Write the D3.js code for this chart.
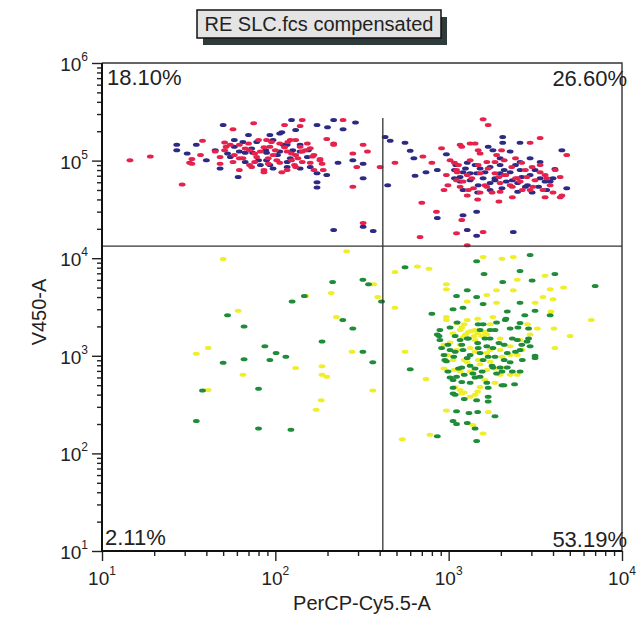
<!DOCTYPE html>
<html>
<head>
<meta charset="utf-8">
<script src="https://cdn.jsdelivr.net/npm/d3@7"></script>
<style>
body{margin:0;background:#fff;}
text{font-family:"Liberation Sans",Arial,sans-serif;fill:#222;}
</style>
</head>
<body>
<script>
// events: [PerCP-Cy5.5-A, V450-A]
var blueEvents = [[27,1.45e5],[27,1.28e5],[31,1.18e5],[35,1.45e5],[50,2.32e5],[70,1.83e5],[93,1.83e5],[109,1.95e5],[124,2.6e5],[174,2.32e5],[217,2.6e5],[200,2.2e5],[246,2.1e5],[290,2.45e5],[230,9.5e4],[280,1.01e5],[321,9.3e4],[321,6.6e4],[174,6e4],[174,5.3e4],[61,6.8e4],[217,1.95e4],[321,2.1e4],[367,1.9e4],
  [58,1.63e5],[65,1.55e5],[78,1.55e5],[97,1.63e5],[106,1.9e5],[117,1.45e5],[139,1.45e5],[126,1.28e5],[106,1.24e5],[89,1.2e5],[74,1.2e5],[62,1.24e5],[55,1.09e5],[67,9.7e4],[82,9e4],[97,8.3e4],[117,8.6e4],[139,8.3e4],[159,8.6e4],[174,7.4e4],[198,7.1e4],[153,1.09e5],[131,2.06e5],[48,8.3e4],[40,1.01e5],[45,1.28e5],[89,1.01e5],[117,9.7e4],
  [53,1.18e5],[73,1.33e5],[88,1.28e5],[103,1.14e5],[122,1.06e5],[139,1.24e5],[80,1.01e5],[67,1.2e5],[111,1.45e5],[155,1.28e5],[93,9e4],[58,1.39e5],
  [430,1.75e5],[460,1.6e5],[445,5.6e4],[560,1.52e5],[600,1.26e5],[630,1.06e5],[740,7.6e4],[640,7e4],[970,1.16e5],[860,8e4],[2050,1.75e5],[2050,1.52e5],[2580,1.52e5],[1690,1.39e5],[4500,1.28e5],[4100,8.2e4],[4800,5.2e4],[1450,3e4],[860,2.58e4],[1210,2.75e4],[1280,1.95e4],[1450,1.7e4],[2360,1.85e4],[2950,1.06e5],
  [1080,8e4],[1210,7.6e4],[1450,7.4e4],[1518,8.3e4],[1734,8.6e4],[1980,9e4],[2262,7.6e4],[2583,8e4],[2950,7.1e4],[3369,6.6e4],[3850,6.1e4],[3300,5.4e4],[2850,5.6e4],[2500,5.9e4],[2150,6.1e4],[1850,6.6e4],[1580,6.6e4],[1330,6.3e4],[1164,6.1e4],[1080,6.6e4],[1210,5e4],[1470,4.7e4],[1734,5e4],[2030,5.2e4],[2500,4.8e4],[3030,4.7e4],[3680,5e4],[1980,7.4e4],[2583,9.7e4],[3369,9.7e4],[1280,9.5e4],[1800,1.28e5],[2262,1.24e5],
  [1100,9e4],[1250,8.3e4],[1420,9e4],[1620,7.6e4],[1850,6.3e4],[2090,8e4],[2330,6.3e4],[2640,6.8e4],[3150,8e4],[3600,6.1e4],[1734,5.9e4],[1480,5.6e4],[1164,6.8e4],[1981,1.06e5],[2770,5.4e4],[2430,9e4],[4000,6.6e4],[1330,7.4e4]];

var redEvents = [[14.5,1.01e5],[19,1.1e5],[29,5.7e4],[33,1.04e5],[33,9.3e4],[38,1.6e5],[57,2.1e5],[75,2.42e5],[113,2.32e5],[143,2.6e5],[139,2.26e5],[246,2.6e5],[198,1.66e5],[217,1.45e5],[321,1.45e5],[340,1.24e5],[280,1.18e5],[181,1.04e5],[186,9.3e4],[295,8.6e4],[402,8.6e4],[280,5.4e4],[321,2.3e4],
  [51,1.53e5],[52,1.39e5],[62,1.45e5],[71,1.28e5],[82,1.24e5],[93,1.39e5],[106,1.5e5],[118,1.55e5],[131,1.63e5],[153,1.5e5],[159,1.34e5],[117,1.24e5],[97,1.14e5],[78,1.09e5],[65,1.06e5],[57,9.7e4],[48,9.3e4],[102,1.01e5],[124,1.01e5],[143,9.7e4],[131,1.14e5],[91,9.3e4],[73,8.6e4],[117,8e4],[167,8e4],[189,8e4],[217,1.5e5],[109,7.6e4],[143,1.24e5],[45,1.24e5],[37,1.14e5],[32,9.5e4],[76,9.7e4],[89,1.63e5],[139,1.39e5],[167,1.14e5],[131,8.6e4],[86,7.6e4],[62,8e4],[181,1.01e5],
  [51,1.28e5],[58,1.14e5],[67,1.33e5],[76,1.18e5],[86,1.37e5],[100,1.28e5],[113,1.37e5],[124,1.18e5],[135,1.06e5],[149,1.28e5],[164,1.1e5],[91,1.06e5],[106,9.5e4],[71,9e4],[62,1.06e5],[55,1.45e5],[80,1.63e5],[95,1.55e5],[129,9e4],[159,9.5e4],[86,8e4],[70,1.5e5],[122,1.63e5],[48,1.09e5],
  [1580,2.65e5],[1690,2.32e5],[700,3.7e4],[684,1.65e4],[850,3e4],[1190,2.46e4],[1110,1.8e4],[1280,1.36e4],[1580,1.85e4],[4800,1.14e5],[3370,1.7e5],[2950,1.52e5],[490,9.5e4],[710,1.1e5],[800,9.5e4],[1080,9.5e4],[910,1.34e5],[1190,1.39e5],[1420,1.5e5],[4400,6.8e4],[3600,4.2e4],[2330,4.2e4],[1950,3.8e4],[1470,4e4],[4500,4.4e4],
  [1164,1.45e5],[1330,1.5e5],[1518,1.18e5],[1660,9.7e4],[1890,1.14e5],[2090,1.01e5],[2310,8.6e4],[2640,9.5e4],[3030,8.6e4],[3370,7.6e4],[3680,6.6e4],[2830,6.8e4],[2490,6.6e4],[2140,7.1e4],[1850,7.4e4],[1518,7.4e4],[1280,7.1e4],[1110,6.3e4],[990,5.6e4],[1164,5.4e4],[1390,5.2e4],[1660,5.4e4],[1980,5.9e4],[2330,5.4e4],[2660,5e4],[3060,5.4e4],[3500,5e4],[4000,4.7e4],[1110,8e4],[970,7.1e4],[1980,4.8e4],[1518,4.7e4],[1280,4.4e4],[4400,4.2e4],
  [1019,1.01e5],[1140,9e4],[1330,1.01e5],[1480,9e4],[1690,8.3e4],[1850,9.7e4],[2090,7.1e4],[2430,6.6e4],[2770,8e4],[3150,6.3e4],[3600,7.1e4],[3850,5.6e4],[1210,6.1e4],[1360,6.6e4],[1620,5.6e4],[1950,6.8e4],[2262,5.6e4],[2583,6.1e4],[2950,5e4],[1120,7.6e4],[1780,4.7e4],[3369,9e4],[2020,1.28e5],[2430,1.06e5],[1480,1.28e5],[940,5e4],[4120,8e4],[1300,5e4]];

var yellowEvents = [[50,9800],[258,11800],[490,7200],[370,5400],[150,4100],[210,4400],[390,4000],[490,3100],[61,2900],[225,2500],[41,1200],[35,1050],[277,1100],[131,750],[186,780],[65,640],[186,640],[198,610],[41,446],[365,440],[184,350],[172,280],
  [660,8200],[770,7800],[1580,10300],[2030,9900],[2360,10300],[3600,6600],[3850,4800],[4600,5000],[3500,4000],[4000,3800],[970,5400],[970,4800],[1280,3600],[1660,4200],[1890,4700],[2360,4700],[2490,6000],[1890,3500],[3150,3500],[3900,2850],[6650,2330],[5020,1600],[4050,1900],[4100,1200],[970,2500],[1110,2170],[1470,2400],[1800,2500],[3250,1900],[560,1100],[740,580],[2490,640],[970,275],[1690,265],[1190,410],[1330,380],[1380,195],[1580,160],[780,155],[540,140],
  [1164,1840],[1300,1750],[1470,1700],[1620,1750],[1210,1550],[1420,1450],[1019,1370],[1110,1150],[1330,1200],[1660,1070],[1981,1150],[1060,905],[1280,860],[1518,820],[1734,870],[2030,980],[1164,690],[1420,610],[1660,715],[1981,640],[2140,760],[1090,480],[1518,480],[1850,530],[2490,1020],[2660,1150],[2262,1250],[1230,420],[1470,430],[970,2330],[1280,2330],[1734,2100],[2850,2100],[940,740],[1250,1650],[1400,1600],[1550,1600],[1350,1800],
  [1060,1700],[1190,1950],[1420,1840],[1660,1650],[1981,1500],[1164,1300],[1420,1100],[1734,1150],[2262,1020],[1070,715],[1230,905],[1480,905],[1850,740],[2262,640],[1330,690],[1620,565],[990,1020],[940,1300],[2090,500],[2583,1450],[2950,1650],[1164,446],[1420,400],[1230,2100]];

var greenEvents = [[214,5700],[320,6000],[345,5400],[147,4100],[125,3600],[53,2600],[66,2000],[245,2330],[280,1900],[186,1400],[87,1250],[101,1070],[115,980],[93,905],[66,920],[50,850],[320,1100],[365,860],[80,460],[38,440],[35,215],[80,180],[123,175],
  [2950,10800],[1450,9300],[560,8100],[2580,7400],[1600,6900],[4100,6900],[2050,5700],[3030,5900],[7000,5200],[410,3600],[1280,4700],[1110,4100],[1450,4000],[1580,3400],[2580,3500],[1060,3000],[1210,3100],[800,2700],[2180,2850],[2750,2600],[3850,2600],[3150,2900],[1120,2200],[1580,2100],[2120,2330],[2580,2170],[600,730],[860,1650],[1060,470],[1060,410],[1690,380],[1690,340],[1230,360],[1450,350],[1110,270],[1310,260],[1470,265],[1850,240],[1060,215],[1110,200],[1280,205],[1420,180],[860,150],[1450,134],[2400,510],[2080,500],[3150,1000],[3150,950],
  [880,1600],[910,1200],[940,1020],[970,880],[990,690],[1060,565],[1164,1450],[1210,1150],[1280,950],[1190,760],[1230,640],[1330,530],[1470,1350],[1518,1070],[1580,905],[1420,740],[1518,610],[1734,1500],[1800,1200],[1850,980],[1800,760],[1890,660],[2090,1300],[2180,1070],[2262,860],[2330,690],[2490,1450],[2583,1150],[2830,1400],[2950,1250],[1090,1600],[1300,1500],[1070,980],[1110,610],[1660,530],[2030,500],[2660,905],[2510,1950],[2890,1900],[2262,1900],[1890,2200],[2140,2400],[1019,1150],[1660,1250],[1981,760],[1380,660],[1518,1840],[1734,1840],
  [890,1450],[990,1300],[1090,1100],[1190,1300],[1330,1020],[1480,1200],[1690,980],[1950,1350],[2090,905],[2430,1100],[2640,1300],[950,905],[1140,740],[1330,790],[1560,690],[1780,790],[2030,690],[1019,600],[1190,540],[1420,600],[1690,470],[1090,400],[1280,1500],[1620,1500],[2330,1500],[2890,1500],[890,1840],[1019,1950],[2180,760],[2583,690],[1850,1840],[1480,2100]];

var quadrantLabels = ["18.10%","26.60%","2.11%","53.19%"];
var xDecades = [10,100,1000,10000];
var yDecades = [10,100,1000,10000,100000,1000000];
var gateX = 417, gateY = 13300, gateTop = 273000;
var title = "RE SLC.fcs compensated";

var svg = d3.select("body").append("svg")
            .attr("width",642).attr("height",620);

var x = d3.scaleLog().domain([10,1e4]).range([102,622]);
var y = d3.scaleLog().domain([10,1e6]).range([551,63]);

function minors(dec){
    var out = [];
    dec.slice(0,-1).forEach(function(d){ for(var k=2;k<10;k++) out.push(d*k); });
    return out;
}

// title box with its shadow
svg.append("rect").attr("x",203).attr("y",17).attr("width",244).attr("height",28).style("fill","#2f3b3b");
svg.append("rect").attr("x",197).attr("y",10).attr("width",244).attr("height",28)
    .style("fill","#e4e4e4").style("stroke","#111").style("stroke-width",1.5);
svg.append("text").attr("x",319).attr("y",31).attr("text-anchor","middle")
    .style("font-size","20px").text(title);

// events
var series = [[yellowEvents,"#f0ee28"],[greenEvents,"#1e8c38"],[blueEvents,"#2c2a84"],[redEvents,"#e6224c"]];
series.forEach(function(s){
    svg.append("g").selectAll("ellipse").data(s[0]).enter().append("ellipse")
        .attr("cx",function(d){return x(d[0]);})
        .attr("cy",function(d){return y(d[1]);})
        .attr("rx",3.4).attr("ry",2)
        .style("fill",s[1]);
});

// gates
svg.append("line").attr("x1",x(10)).attr("x2",x(1e4)).attr("y1",y(gateY)).attr("y2",y(gateY))
    .style("stroke","#333").style("stroke-width",1.3);
svg.append("line").attr("x1",x(gateX)).attr("x2",x(gateX)).attr("y1",y(gateTop)).attr("y2",y(10))
    .style("stroke","#333").style("stroke-width",1.3);

// axes
function styleAxis(g){ g.select(".domain").remove(); g.selectAll("line").style("stroke","#222").style("stroke-width",1.4); }
svg.append("g").attr("transform","translate(0,551)")
    .call(d3.axisBottom(x).tickValues(minors(xDecades)).tickSize(5).tickFormat("")).call(styleAxis);
svg.append("g").attr("transform","translate(0,551)")
    .call(d3.axisBottom(x).tickValues(xDecades).tickSize(10).tickFormat("")).call(styleAxis);
svg.append("g").attr("transform","translate(102,0)")
    .call(d3.axisLeft(y).tickValues(minors(yDecades)).tickSize(5).tickFormat("")).call(styleAxis);
svg.append("g").attr("transform","translate(102,0)")
    .call(d3.axisLeft(y).tickValues(yDecades).tickSize(10).tickFormat("")).call(styleAxis);

// frame
svg.append("path").attr("d","M102,63 H622 V551").style("fill","none").style("stroke","#333").style("stroke-width",1.4);
svg.append("path").attr("d","M102,63 V551 H622").style("fill","none").style("stroke","#111").style("stroke-width",2);

// tick labels
xDecades.forEach(function(d){
    var t = svg.append("text").attr("x",x(d)).attr("y",585).attr("text-anchor","middle").style("font-size","19px");
    t.append("tspan").text("10");
    t.append("tspan").attr("dy",-10).style("font-size","12px").text(Math.round(Math.log10(d)));
});
yDecades.forEach(function(d){
    var t = svg.append("text").attr("x",88).attr("y",y(d)+8).attr("text-anchor","end").style("font-size","19px");
    t.append("tspan").text("10");
    t.append("tspan").attr("dy",-10).style("font-size","12px").text(Math.round(Math.log10(d)));
});

// axis titles
svg.append("text").attr("x",362).attr("y",610).attr("text-anchor","middle").style("font-size","20px").text("PerCP-Cy5.5-A");
svg.append("text").attr("transform","translate(46,312) rotate(-90)").attr("text-anchor","middle").style("font-size","20px").text("V450-A");

// quadrant percentages
var qpos = [[107,85,"start"],[627,86,"end"],[105,545,"start"],[627,547,"end"]];
quadrantLabels.forEach(function(l,i){
    svg.append("text").attr("x",qpos[i][0]).attr("y",qpos[i][1]).attr("text-anchor",qpos[i][2])
        .style("font-size","22px").text(l);
});
</script>
</body>
</html>
